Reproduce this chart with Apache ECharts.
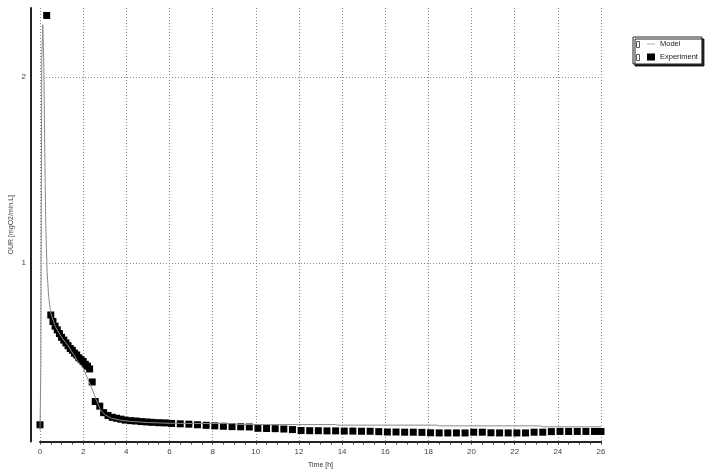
<!DOCTYPE html>
<html>
<head>
<meta charset="utf-8">
<script src="https://cdn.jsdelivr.net/npm/echarts@6/dist/echarts.min.js"></script>
<style>
  html, body { margin: 0; padding: 0; background: #fff; }
  #chart { width: 707px; height: 473px; }
</style>
</head>
<body>
<div id="chart"></div>
<script>
// Oxygen uptake rate over time: measured values and fitted model
const xTicks = [0, 2, 4, 6, 8, 10, 12, 14, 16, 18, 20, 22, 24, 26];
const yGridValues = [1, 2];

const modelTime = [0, 0.04, 0.08, 0.13, 0.18, 0.22, 0.27, 0.33, 0.4, 0.5, 0.7, 1.0, 1.3, 1.6, 1.8, 2.0, 2.2, 2.4, 2.6, 2.8, 3.0, 3.3, 3.7, 4.2, 5, 6, 7, 9, 9.1, 13.7, 13.8, 18.4, 18.5, 23.2, 23.3, 26];
const modelOUR  = [0.10, 0.45, 2.1, 2.28, 2.05, 1.6, 1.2, 0.95, 0.82, 0.73, 0.66, 0.6, 0.555, 0.5, 0.46, 0.435, 0.38, 0.327, 0.265, 0.21, 0.185, 0.165, 0.155, 0.148, 0.142, 0.138, 0.137, 0.136, 0.131, 0.131, 0.128, 0.128, 0.124, 0.124, 0.119, 0.119];

const expTime = [0, 0.31, 0.5, 0.6, 0.7, 0.8, 0.9, 1.0, 1.1, 1.2, 1.3, 1.4, 1.5, 1.6, 1.7, 1.8, 1.9, 2.0, 2.1, 2.2, 2.3,
  2.42, 2.56, 2.77, 2.95, 3.15, 3.35, 3.55, 3.75, 3.95, 4.2, 4.45, 4.7, 4.95, 5.2, 5.5, 5.8, 6.1, 6.5, 6.9, 7.3, 7.7,
  8.1, 8.5, 8.9, 9.3, 9.7, 10.1, 10.5, 10.9, 11.3, 11.7, 12.1, 12.5, 12.9, 13.3, 13.7, 14.1, 14.5, 14.9, 15.3, 15.7,
  16.1, 16.5, 16.9, 17.3, 17.7, 18.1, 18.5, 18.9, 19.3, 19.7, 20.1, 20.5, 20.9, 21.3, 21.7, 22.1, 22.5, 22.9, 23.3,
  23.7, 24.1, 24.5, 24.9, 25.3, 25.7, 26.0];
const expOUR = [0.13, 2.33, 0.72, 0.685, 0.66, 0.64, 0.62, 0.60, 0.585, 0.57, 0.555, 0.54, 0.53, 0.515, 0.505, 0.49, 0.48, 0.47, 0.455, 0.445, 0.43,
  0.36, 0.255, 0.23, 0.195, 0.18, 0.17, 0.165, 0.16, 0.155, 0.152, 0.15, 0.147, 0.145, 0.143, 0.141, 0.14, 0.137, 0.135, 0.133, 0.13, 0.127,
  0.124, 0.122, 0.12, 0.119, 0.118, 0.111, 0.11, 0.109, 0.107, 0.104, 0.099, 0.098, 0.098, 0.097, 0.097, 0.096, 0.096, 0.095, 0.095, 0.093,
  0.091, 0.091, 0.09, 0.09, 0.089, 0.087, 0.086, 0.086, 0.086, 0.086, 0.09, 0.09, 0.087, 0.086, 0.086, 0.086, 0.086, 0.09, 0.09,
  0.093, 0.094, 0.094, 0.094, 0.094, 0.094, 0.094];

const modelData = modelTime.map((t, i) => [t, modelOUR[i]]);
const expData = expTime.map((t, i) => [t, expOUR[i]]);

const gridLineStyle = { color: '#8c8c8c', type: [1, 2], width: 1 };

const chart = echarts.init(document.getElementById('chart'), null, { renderer: 'canvas' });
chart.setOption({
  animation: false,
  backgroundColor: '#ffffff',
  textStyle: { fontFamily: 'Liberation Sans, Arial, sans-serif' },
  grid: { left: 40, right: 106, top: 8, bottom: 31.5, containLabel: false, outerBoundsMode: 'none' },
  xAxis: {
    type: 'value',
    min: xTicks[0],
    max: xTicks[xTicks.length - 1],
    interval: 2,
    name: 'Time [h]',
    nameLocation: 'middle',
    nameGap: 20,
    nameTextStyle: { fontSize: 7, color: '#333' },
    axisLine: { show: true, onZero: false, lineStyle: { color: '#222', width: 2 } },
    axisTick: { show: true, length: 3, lineStyle: { color: '#333' } },
    minorTick: { show: true, splitNumber: 4, length: 3, lineStyle: { color: '#333' } },
    axisLabel: { fontSize: 8, color: '#444', margin: 6 },
    splitLine: { show: true, lineStyle: gridLineStyle }
  },
  yAxis: {
    type: 'value',
    min: 0.04,
    max: 2.37,
    offset: 9,
    name: 'OUR [mgO2/min.L]',
    nameLocation: 'middle',
    nameRotate: 90,
    nameGap: 16,
    nameMoveOverlap: false,
    nameTextStyle: { fontSize: 7, color: '#444' },
    axisLine: { show: true, onZero: false, lineStyle: { color: '#222', width: 2 } },
    axisTick: { show: false },
    axisLabel: {
      fontSize: 8, color: '#444', margin: 5,
      formatter: v => (yGridValues.indexOf(v) >= 0 ? String(v) : '')
    },
    splitLine: { show: false }
  },
  legend: {
    orient: 'vertical',
    left: 633,
    top: 37,
    padding: [3, 4, 3, 14],
    itemGap: 5,
    itemWidth: 8,
    itemHeight: 7,
    backgroundColor: '#fff',
    borderColor: '#222',
    borderWidth: 1,
    shadowColor: 'rgba(0,0,0,0.85)',
    shadowOffsetX: 2,
    shadowOffsetY: 2,
    shadowBlur: 0,
    textStyle: { fontSize: 7.5, color: '#222' },
    data: [
      { name: 'Model', icon: 'path://M0,5 L10,5 L10,6 L0,6 Z', itemStyle: { color: '#999' } },
      { name: 'Experiment', icon: 'rect', itemStyle: { color: '#000' } }
    ]
  },
  graphic: [
    { type: 'rect', left: 636, top: 41, shape: { width: 3, height: 6 }, style: { fill: '#fff', stroke: '#555', lineWidth: 1 }, z: 100 },
    { type: 'rect', left: 636, top: 54, shape: { width: 3, height: 6 }, style: { fill: '#fff', stroke: '#555', lineWidth: 1 }, z: 100 }
  ],
  series: [
    {
      name: 'Model',
      type: 'line',
      data: modelData,
      symbol: 'none',
      lineStyle: { color: '#8a8a8a', width: 1 },
      z: 3,
      markLine: {
        silent: true,
        symbol: 'none',
        label: { show: false },
        lineStyle: gridLineStyle,
        data: yGridValues.map(v => ({ yAxis: v }))
      }
    },
    {
      name: 'Experiment',
      type: 'scatter',
      data: expData,
      symbol: 'rect',
      symbolSize: 7,
      itemStyle: { color: '#000', opacity: 1 },
      z: 2
    }
  ]
});
</script>
</body>
</html>
